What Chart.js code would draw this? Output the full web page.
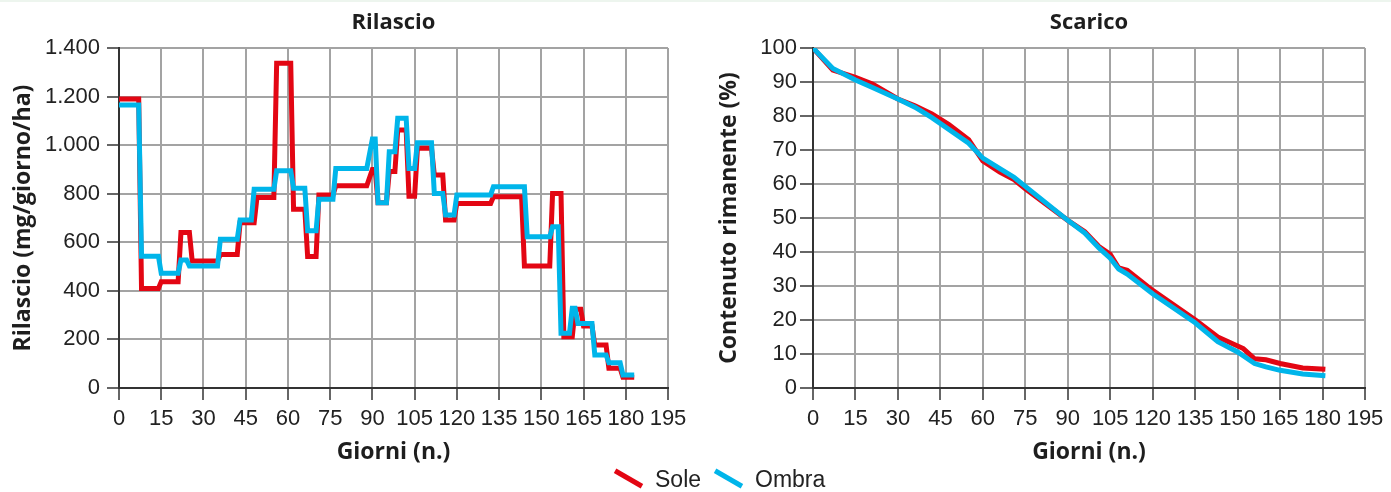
<!DOCTYPE html>
<html lang="it">
<head>
<meta charset="utf-8">
<title>Rilascio e Scarico</title>
<script src="https://cdn.jsdelivr.net/npm/chart.js@4.4.1/dist/chart.umd.min.js"></script>
<style>
  html, body { margin: 0; padding: 0; background: #ffffff; }
  body { width: 1391px; height: 492px; position: relative; overflow: hidden; }
  #band { position: absolute; left: 0; top: 0; width: 1391px; height: 2px; background: #edf5ee; }
  #release { position: absolute; left: 0; top: 0; }
  #residue { position: absolute; left: 694px; top: 0; }
  #legend { position: absolute; left: 0; top: 0; width: 1391px; height: 492px; pointer-events: none; }
  .key { position: absolute; width: 31px; height: 5px; transform: rotate(30deg); transform-origin: center; }
  .lab { position: absolute; font-family: 'Liberation Sans', sans-serif; font-size: 23px; color: #222; line-height: 24px; }
</style>
</head>
<body>
<div id="band"></div>
<canvas id="release" width="700" height="468"></canvas>
<canvas id="residue" width="697" height="468"></canvas>
<div id="legend"></div>
<script>
// Rilascio giornaliero (mg/giorno/ha) per giorno
const releaseDaysSole = [0,7,8,14,15,21,22,25,26,35,36,42,43,48,49,55,56,61,62,66,67,70,71,76,77,88,90,91,92,95,96,98,99,102,103,105,106,111,112,115,116,119,120,132,133,143,144,153,154,157,158,161,162,164,165,168,169,173,174,178,179,183];
const releaseSole = [1190,1190,410,410,438,438,640,640,523,523,550,550,680,680,784,784,1337,1337,736,736,541,541,795,795,833,833,900,900,763,763,891,891,1062,1062,790,790,987,987,877,877,692,692,760,760,787,787,502,502,801,801,211,211,324,324,255,255,177,177,81,81,44,44];
const releaseDaysOmbra = [0,7,8,14,15,21,22,24,25,35,36,42,43,47,48,55,56,61,62,66,67,70,71,76,77,88,90,91,92,95,96,98,99,102,103,105,106,111,112,115,116,119,120,132,133,144,145,153,154,156,157,160,161,162,163,168,169,173,174,178,179,183];
const releaseOmbra = [1165,1165,543,543,472,472,527,527,502,502,613,613,692,692,818,818,895,895,822,822,648,648,777,777,904,904,1025,1025,763,763,973,973,1111,1111,904,904,1010,1010,801,801,712,712,795,795,829,829,623,623,664,664,225,225,328,328,266,266,136,136,104,104,54,54];

// Contenuto rimanente (%) per giorno
const residueDaysSole = [0,7,15,21,30,36,42,48,55,60,66,71,75,90,96,101,105,108,111,120,135,143,152,156,160,165,173,181];
const residueSole = [100,93.5,91.4,89.4,85,83,80.6,77.5,73,66.8,63.5,61.3,58.6,49.3,46,41.6,39.3,35.3,34.6,28.7,20.1,15,11.6,8.6,8.3,7.2,5.9,5.5];
const residueDaysOmbra = [0,7,15,21,30,36,42,55,60,66,71,75,90,96,101,105,108,111,120,135,143,150,156,160,165,173,181];
const residueOmbra = [100,94,90.6,88.4,85,82.6,79.5,72,67.6,64.5,62,59.3,49.3,45.6,41.2,38.2,35,33.5,27.7,19.2,13.6,10.6,7.2,6.2,5.2,4.1,3.6];

// Etichette degli assi
const releaseTickLabels = ['0','200','400','600','800','1.000','1.200','1.400'];
const residueTickLabels = ['0','10','20','30','40','50','60','70','80','90','100'];

const SOLE = '#e30613';
const OMBRA = '#00b5ea';
const INK = '#1e1e1e';
const tickFont = { family: "'Liberation Sans', sans-serif", size: 22 };
const titleFont = { family: "'Open Sans', sans-serif", size: 22, weight: 'bold' };
const axisTitleFont = { family: "'Open Sans', sans-serif", size: 23, weight: 'bold' };

function toPoints(xs, ys) {
  return xs.map((x, i) => ({ x: x, y: ys[i] }));
}

function series(label, xs, ys, color, order) {
  return {
    label: label,
    data: toPoints(xs, ys),
    borderColor: color,
    backgroundColor: color,
    borderWidth: 5,
    pointRadius: 0,
    tension: 0,
    borderJoinStyle: 'miter',
    borderCapStyle: 'butt',
    order: order
  };
}

function buildChart(canvas, opts) {
  return new Chart(canvas, {
    type: 'line',
    data: {
      datasets: [
        series('Sole', opts.solX, opts.solY, SOLE, 1),
        series('Ombra', opts.ombX, opts.ombY, OMBRA, 0)
      ]
    },
    options: {
      responsive: false,
      animation: false,
      devicePixelRatio: 1,
      layout: { padding: { left: 0, right: opts.padRight, top: 0, bottom: 0 } },
      plugins: {
        legend: { display: false },
        tooltip: { enabled: false },
        title: {
          display: true,
          text: opts.title,
          font: titleFont,
          color: INK,
          fullSize: false,
          padding: { top: 10, bottom: 11.6 }
        }
      },
      scales: {
        x: {
          type: 'linear',
          min: 0,
          max: 195,
          ticks: { stepSize: 15, font: tickFont, color: '#222', padding: 6, maxRotation: 0, autoSkip: false },
          grid: { color: '#a3a3a3', lineWidth: 2, tickColor: '#333', tickLength: 12, tickWidth: 1.5 },
          border: { color: '#333', width: 2 },
          title: { display: true, text: 'Giorni (n.)', font: axisTitleFont, color: INK, padding: { top: 0, bottom: 2 } },
          afterFit: (s) => { s.height = 80; }
        },
        y: {
          min: 0,
          max: opts.yMax,
          ticks: {
            stepSize: opts.yStep,
            font: tickFont,
            color: '#222',
            padding: opts.tickPad,
            callback: (v, i) => opts.yLabels[i]
          },
          grid: { color: '#a3a3a3', lineWidth: 2, tickColor: '#333', tickLength: opts.tickLen, tickWidth: 1.5 },
          border: { color: '#333', width: 2 },
          title: { display: true, text: opts.yTitle, font: axisTitleFont, color: INK, padding: { top: opts.yTitlePad, bottom: 0 } },
          afterFit: (s) => { s.width = 119; }
        }
      }
    }
  });
}

buildChart(document.getElementById('release'), {
  title: 'Rilascio',
  yTitle: 'Rilascio (mg/giorno/ha)',
  solX: releaseDaysSole, solY: releaseSole,
  ombX: releaseDaysOmbra, ombY: releaseOmbra,
  yMax: 1400, yStep: 200, yLabels: releaseTickLabels,
  tickLen: 12, tickPad: 7, yTitlePad: 10, padRight: 32
});

buildChart(document.getElementById('residue'), {
  title: 'Scarico',
  yTitle: 'Contenuto rimanente (%)',
  solX: residueDaysSole, solY: residueSole,
  ombX: residueDaysOmbra, ombY: residueOmbra,
  yMax: 100, yStep: 10, yLabels: residueTickLabels,
  tickLen: 13, tickPad: 3, yTitlePad: 22, padRight: 26
});

// Legenda comune sotto i due grafici
const legendItems = [
  { label: 'Sole', color: SOLE, keyLeft: 613, textLeft: 655 },
  { label: 'Ombra', color: OMBRA, keyLeft: 713, textLeft: 755 }
];
const legend = document.getElementById('legend');
legendItems.forEach((item) => {
  const key = document.createElement('div');
  key.className = 'key';
  key.style.left = item.keyLeft + 'px';
  key.style.top = '476px';
  key.style.background = item.color;
  legend.appendChild(key);
  const lab = document.createElement('div');
  lab.className = 'lab';
  lab.style.left = item.textLeft + 'px';
  lab.style.top = '467px';
  lab.textContent = item.label;
  legend.appendChild(lab);
});
</script>
</body>
</html>
